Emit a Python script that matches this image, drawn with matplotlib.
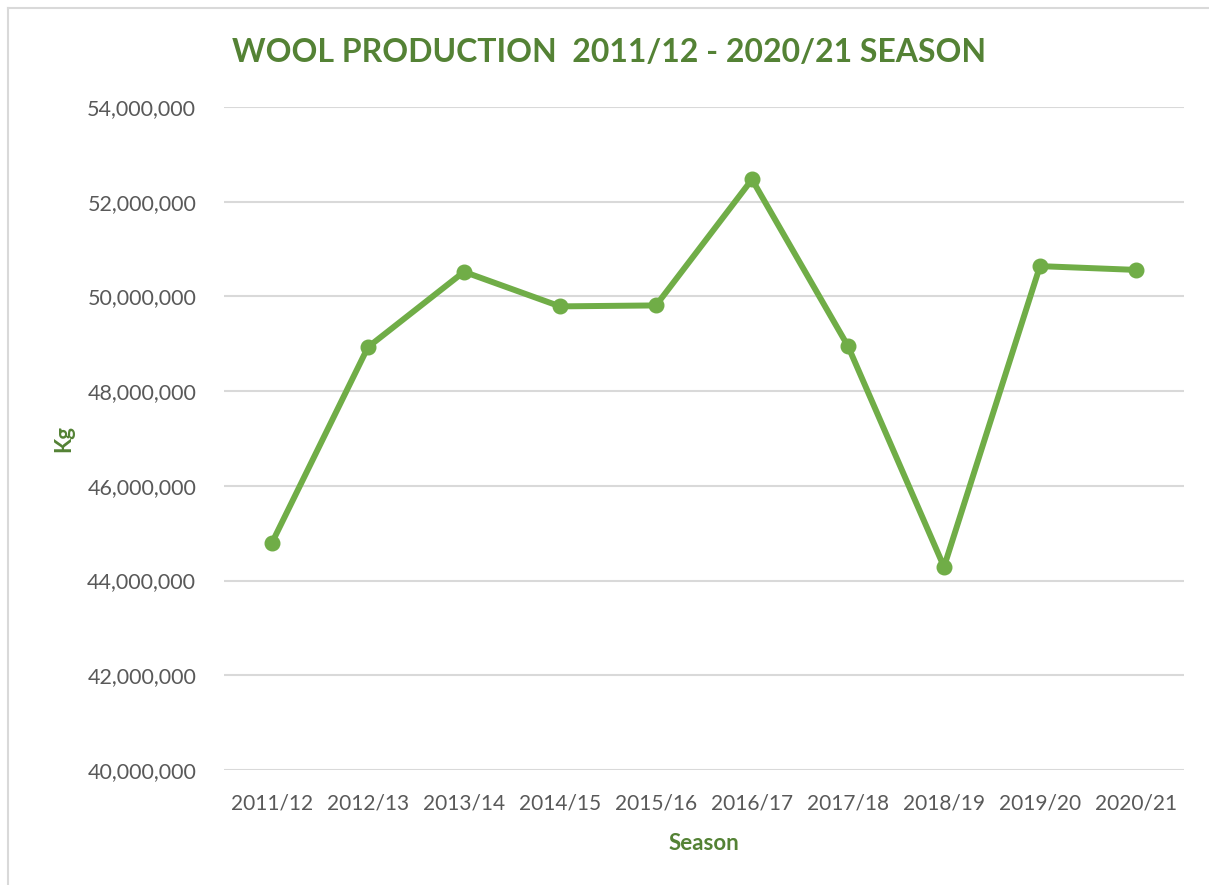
import matplotlib
matplotlib.use("Agg")
import matplotlib.pyplot as plt
from matplotlib.ticker import FuncFormatter, MultipleLocator
from matplotlib.lines import Line2D

seasons = ["2011/12", "2012/13", "2013/14", "2014/15", "2015/16",
           "2016/17", "2017/18", "2018/19", "2019/20", "2020/21"]
production_kg = [44_800_000, 48_930_000, 50_520_000, 49_790_000, 49_810_000,
                 52_470_000, 48_950_000, 44_290_000, 50_640_000, 50_560_000]

title_text = "WOOL PRODUCTION  2011/12 - 2020/21 SEASON"
x_label = "Season"
y_label = "Kg"

LINE_GREEN = "#70AD47"
DARK_GREEN = "#548235"
TICK_GRAY = "#595959"
GRID_GRAY = "#D9D9D9"

plt.rcParams['font.family'] = ['Lato', 'DejaVu Sans']

W, H = 1209, 885
fig = plt.figure(figsize=(W / 100, H / 100), dpi=100)
fig.patch.set_facecolor("white")

ax = fig.add_axes([224 / W, 1 - 770 / H, (1184 - 224) / W, (770 - 107) / H])

x = list(range(len(seasons)))
ax.plot(x, production_kg, color=LINE_GREEN, linewidth=4.3, marker="o",
        markersize=10.5, solid_capstyle="round", solid_joinstyle="round", zorder=3)

ax.set_xlim(-0.5, len(seasons) - 0.5)
ax.set_ylim(40_000_000, 54_000_000)
ax.yaxis.set_major_locator(MultipleLocator(2_000_000))
ax.yaxis.set_major_formatter(FuncFormatter(lambda v, p: f"{int(v):,}"))
ax.set_xticks(x)
ax.set_xticklabels(seasons)

ax.grid(axis="y", color=GRID_GRAY, linewidth=1.5, zorder=0)
ax.grid(axis="x", visible=False)
for s in ax.spines.values():
    s.set_visible(False)
ax.tick_params(axis="both", length=0, colors=TICK_GRAY)
ax.tick_params(axis="y", pad=20, labelsize=15.5)
ax.tick_params(axis="x", pad=17, labelsize=15)
ax.set_axisbelow(True)

ax.set_xlabel(x_label, fontsize=16, fontweight="bold", color=DARK_GREEN, labelpad=14)
ax.set_ylabel(y_label, fontsize=16, fontweight="bold", color=DARK_GREEN, labelpad=9)

fig.text(609 / W, 1 - 53 / H, title_text, ha="center", va="center",
         fontsize=23, fontweight="bold", color=DARK_GREEN)

# chart border (top and left visible)
fig.add_artist(Line2D([8 / W, 1.0], [1 - 8 / H, 1 - 8 / H], transform=fig.transFigure,
                      color=GRID_GRAY, linewidth=1.5))
fig.add_artist(Line2D([8 / W, 8 / W], [0.0, 1 - 8 / H], transform=fig.transFigure,
                      color=GRID_GRAY, linewidth=1.5))

fig.savefig("out.png", dpi=100)
